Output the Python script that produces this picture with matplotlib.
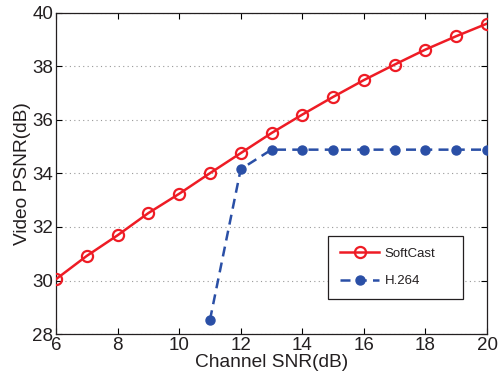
import matplotlib
matplotlib.use("Agg")
import matplotlib.pyplot as plt

plt.rcParams['font.family'] = ['Liberation Sans', 'DejaVu Sans']
plt.rcParams['text.color'] = '#231f20'
plt.rcParams['xtick.labelcolor'] = '#231f20'
plt.rcParams['ytick.labelcolor'] = '#231f20'
plt.rcParams['axes.labelcolor'] = '#231f20'

snr_softcast = [6, 7, 8, 9, 10, 11, 12, 13, 14, 15, 16, 17, 18, 19, 20]
psnr_softcast = [30.05, 30.92, 31.69, 32.52, 33.24, 34.01, 34.76, 35.51,
                 36.20, 36.86, 37.49, 38.07, 38.63, 39.13, 39.60]

snr_h264 = [11, 12, 13, 14, 15, 16, 17, 18, 19, 20]
psnr_h264 = [28.52, 34.16, 34.89, 34.89, 34.89, 34.89, 34.89, 34.89, 34.89, 34.89]

xticks = [6, 8, 10, 12, 14, 16, 18, 20]
yticks = [28, 30, 32, 34, 36, 38, 40]

fig = plt.figure(figsize=(5, 3.8), dpi=100)
ax = fig.add_axes([0.112, 0.121, 0.862, 0.845])

ax.plot(snr_softcast, psnr_softcast, color="#ee1c25", linewidth=1.8,
        marker="o", markersize=8, markerfacecolor="none",
        markeredgewidth=1.6, label="SoftCast", zorder=3)
ax.plot(snr_h264, psnr_h264, color="#2a4fa6", linewidth=1.8, linestyle="--",
        dashes=(4, 2.5), marker="o", markersize=6.5, label="H.264", zorder=3)

ax.set_xlim(6, 20)
ax.set_ylim(28, 40)
ax.set_xticks(xticks)
ax.set_yticks(yticks)
ax.yaxis.grid(True, linestyle=(0, (1, 3)), color="#999999", linewidth=0.8)
ax.tick_params(direction="in", top=True, right=True, labelsize=13.5,
               length=4, pad=2)
for s in ax.spines.values():
    s.set_linewidth(0.9)
    s.set_color("#231f20")

ax.set_xlabel("Channel SNR(dB)", fontsize=13.8, labelpad=0)
ax.set_ylabel("Video PSNR(dB)", fontsize=13.8, labelpad=1)

leg = ax.legend(loc="lower left", bbox_to_anchor=(0.631, 0.109, 0.313, 0.196),
                mode="expand", fontsize=9.5, fancybox=False, framealpha=1,
                edgecolor="#231f20", handlelength=3.0, handletextpad=0.4,
                borderpad=0.9, labelspacing=1.15, borderaxespad=0)
leg.get_frame().set_linewidth(0.9)

fig.savefig("out.png", dpi=100)
